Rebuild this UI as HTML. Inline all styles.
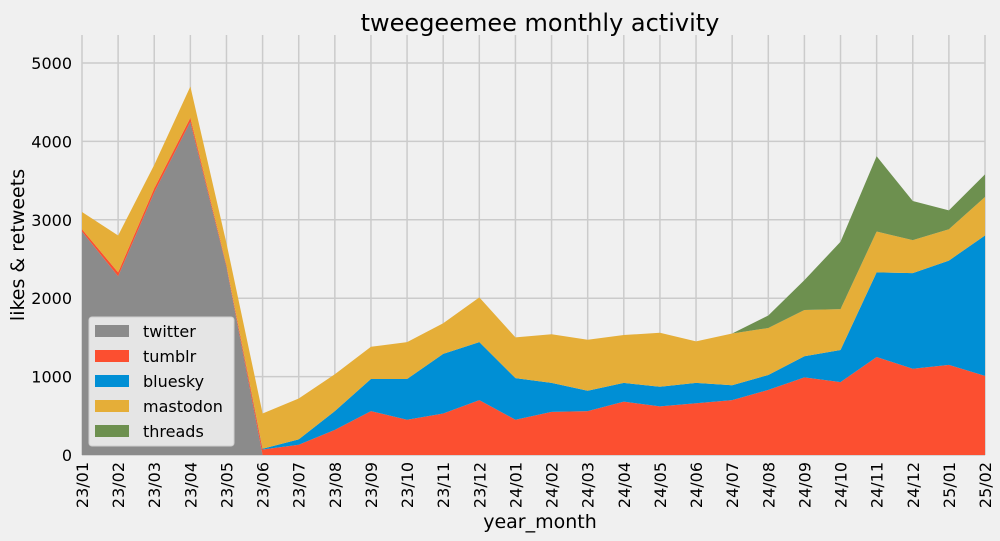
<!DOCTYPE html>
<html><head><meta charset="utf-8"><style>
html,body{margin:0;padding:0;background:#f0f0f0;}
svg{display:block;font-family:"DejaVu Sans","Liberation Sans",sans-serif;}
</style></head><body>
<svg id="chart" width="1000" height="541" xmlns="http://www.w3.org/2000/svg">
<rect width="1000" height="541" fill="#f0f0f0"/>
<text x="540" y="31" font-size="24" text-anchor="middle" fill="#000">tweegeemee monthly activity</text>
<g id="grid"></g>
<g id="areas"></g>
<g id="yticks"></g>
<g id="xticks"></g>
<text x="540" y="528" font-size="19" text-anchor="middle">year_month</text>
<text transform="translate(24,245) rotate(-90)" font-size="19" text-anchor="middle">likes &amp; retweets</text>
<g id="legend"></g>
</svg>
<script>
const categories=["23/01","23/02","23/03","23/04","23/05","23/06","23/07","23/08","23/09","23/10","23/11","23/12","24/01","24/02","24/03","24/04","24/05","24/06","24/07","24/08","24/09","24/10","24/11","24/12","25/01","25/02"];
const twitter=[2850,2280,3350,4250,2400,0,0,0,0,0,0,0,0,0,0,0,0,0,0,0,0,0,0,0,0,0];
const tumblr=[30,50,50,50,20,70,130,320,560,450,530,700,450,550,560,680,620,660,700,830,990,930,1250,1100,1150,1010];
const bluesky=[0,0,0,0,0,10,70,240,410,520,760,740,530,370,260,240,250,260,190,190,270,410,1080,1220,1330,1790];
const mastodon=[220,470,300,400,280,450,520,470,410,470,390,570,520,620,650,610,690,530,660,600,590,520,520,420,400,490];
const threads=[0,0,0,0,0,0,0,0,0,0,0,0,0,0,0,0,0,0,0,160,380,860,960,500,240,290];
const seriesNames=["twitter","tumblr","bluesky","mastodon","threads"];
const yTicks=[0,1000,2000,3000,4000,5000];
const colors=["#8b8b8b","#fc4f30","#008fd5","#e5ae38","#6d904f"];
const series=[twitter,tumblr,bluesky,mastodon,threads];
const NS="http://www.w3.org/2000/svg";
const X0=82,X1=985,Y0=455,YTOP=35,YMAX=5357;
const xs=i=>X0+(X1-X0)*i/(categories.length-1);
const ys=v=>Y0-(Y0-YTOP)*v/YMAX;
function mk(tag,attrs,parent){const e=document.createElementNS(NS,tag);for(const k in attrs)e.setAttribute(k,attrs[k]);parent.appendChild(e);return e;}
const grid=document.getElementById('grid');
categories.forEach((c,i)=>{const l=mk('line',{x1:xs(i),x2:xs(i),y1:YTOP,y2:Y0,stroke:'#cbcbcb','stroke-width':1.5},grid);

});
yTicks.forEach(t=>{const l=mk('line',{x1:X0,x2:X1,y1:ys(t),y2:ys(t),stroke:'#cbcbcb','stroke-width':1.5},grid);

});
const areas=document.getElementById('areas');
let base=categories.map(()=>0);
series.forEach((s,k)=>{const top=base.map((b,i)=>b+s[i]);
let d='';top.forEach((v,i)=>{d+=(i?'L':'M')+xs(i)+','+ys(v);});
for(let i=base.length-1;i>=0;i--)d+='L'+xs(i)+','+ys(base[i]);d+='Z';
const p=mk('path',{d:d,fill:colors[k]},areas);


base=top;});
const yt=document.getElementById('yticks');
yTicks.forEach(t=>{const e=mk('text',{x:72,y:ys(t)+6,'font-size':16,'text-anchor':'end'},yt);e.textContent=t;

});
const xt=document.getElementById('xticks');
categories.forEach((c,i)=>{const e=mk('text',{transform:`translate(${xs(i)+6},462) rotate(-90)`,'font-size':16,'text-anchor':'end'},xt);e.textContent=c;

});
const lg=document.getElementById('legend');
const box=mk('rect',{x:89,y:317,width:145,height:129,rx:3,fill:'#e5e5e5',stroke:'#d0d0d0'},lg);


seriesNames.forEach((n,k)=>{const y=331+25*k;
const g=mk('g',{},lg);


mk('rect',{x:95,y:y-6,width:34,height:12,fill:colors[k]},g);
const t=mk('text',{x:143,y:y+6,'font-size':16},g);t.textContent=n;});
</script>
</body></html>
